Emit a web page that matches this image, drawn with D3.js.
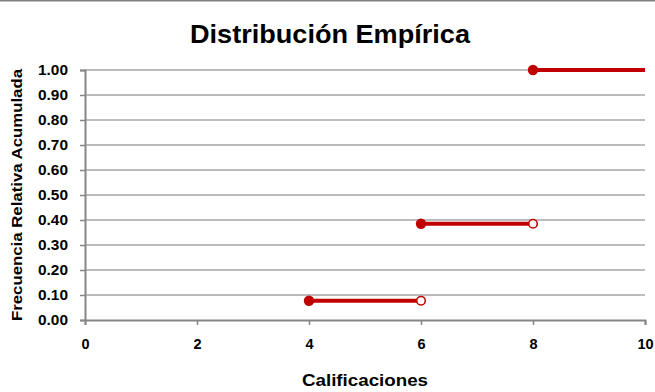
<!DOCTYPE html>
<html>
<head>
<meta charset="utf-8">
<script src="https://cdn.jsdelivr.net/npm/d3@7"></script>
<style>
html,body{margin:0;padding:0;background:#fff;}
svg{display:block;font-family:"Liberation Sans",Arial,Helvetica,sans-serif;}
</style>
</head>
<body>
<svg id="chart" width="655" height="392"></svg>
<script>
// Data
const stepStart = [4, 6, 8];
const stepEnd = [6, 8, 10];
const cumFreq = [0.077, 0.385, 1.0];
const openEnd = [true, true, false];
const xTicks = [0, 2, 4, 6, 8, 10];
const yTicks = [0, 0.1, 0.2, 0.3, 0.4, 0.5, 0.6, 0.7, 0.8, 0.9, 1.0];
const title = "Distribución Empírica";
const xTitle = "Calificaciones";
const yTitle = "Frecuencia Relativa Acumulada";

const svg = d3.select("#chart");
const W = 655, H = 392;
const m = {left: 85, right: 10, top: 70, bottom: 72};
const x = d3.scaleLinear().domain([0, 10]).range([m.left, W - m.right]);
const y = d3.scaleLinear().domain([0, 1]).range([H - m.bottom, m.top]);
const red = "#c00000";
const font = "Liberation Sans, Arial, sans-serif";

// top border
svg.append("line").attr("x1", 0).attr("x2", W).attr("y1", 0.75).attr("y2", 0.75)
  .attr("stroke", "#808080").attr("stroke-width", 1.5);

// gridlines
svg.append("g").selectAll("line").data(yTicks.filter(d => d > 0)).join("line")
  .attr("x1", x(0)).attr("x2", x(10))
  .attr("y1", d => y(d)).attr("y2", d => y(d))
  .attr("stroke", "#a6a6a6").attr("stroke-width", 1.5);

// y axis
const yAxis = svg.append("g").attr("transform", `translate(${x(0)},0)`)
  .call(d3.axisLeft(y).tickValues(yTicks).tickFormat(d3.format(".2f")).tickSize(5).tickPadding(12));
yAxis.select(".domain").attr("stroke", "#868686").attr("stroke-width", 2);
yAxis.selectAll(".tick line").attr("stroke", "#868686").attr("stroke-width", 1.5);
yAxis.selectAll("text").attr("font-size", 14.5).attr("font-weight", "bold").attr("fill", "#000")
  .attr("font-family", font).attr("textLength", 30).attr("lengthAdjust", "spacingAndGlyphs");

// x axis
const xAxis = svg.append("g").attr("transform", `translate(0,${y(0)})`)
  .call(d3.axisBottom(x).tickValues(xTicks).tickFormat(d3.format("d")).tickSize(5).tickPadding(14));
xAxis.select(".domain").attr("stroke", "#868686").attr("stroke-width", 2);
xAxis.selectAll(".tick line").attr("stroke", "#868686").attr("stroke-width", 1.5);
xAxis.selectAll("text").attr("font-size", 14.5).attr("font-weight", "bold").attr("fill", "#000")
  .attr("font-family", font);

// steps
const steps = stepStart.map((s, i) => ({s, e: stepEnd[i], v: cumFreq[i], open: openEnd[i]}));
svg.append("g").selectAll("line").data(steps).join("line")
  .attr("x1", d => x(d.s)).attr("x2", d => x(d.e))
  .attr("y1", d => y(d.v)).attr("y2", d => y(d.v))
  .attr("stroke", red).attr("stroke-width", 4);
svg.append("g").selectAll("circle").data(steps).join("circle")
  .attr("cx", d => x(d.s)).attr("cy", d => y(d.v)).attr("r", 5.2).attr("fill", red);
svg.append("g").selectAll("circle").data(steps.filter(d => d.open)).join("circle")
  .attr("cx", d => x(d.e)).attr("cy", d => y(d.v)).attr("r", 4.3)
  .attr("fill", "#fff").attr("stroke", red).attr("stroke-width", 1.6);

// titles
svg.append("text").attr("x", 330).attr("y", 43).attr("text-anchor", "middle")
  .attr("font-size", 26).attr("font-weight", "bold")
  .attr("textLength", 280).attr("lengthAdjust", "spacingAndGlyphs").text(title);
svg.append("text").attr("x", x(5)).attr("y", 386).attr("text-anchor", "middle")
  .attr("font-size", 17).attr("font-weight", "bold")
  .attr("textLength", 126).attr("lengthAdjust", "spacingAndGlyphs").text(xTitle);
svg.append("text").attr("transform", `translate(22,${(y(0)+y(1))/2}) rotate(-90)`)
  .attr("text-anchor", "middle").attr("font-size", 15).attr("font-weight", "bold")
  .attr("textLength", 252).attr("lengthAdjust", "spacingAndGlyphs").text(yTitle);
</script>
</body>
</html>
